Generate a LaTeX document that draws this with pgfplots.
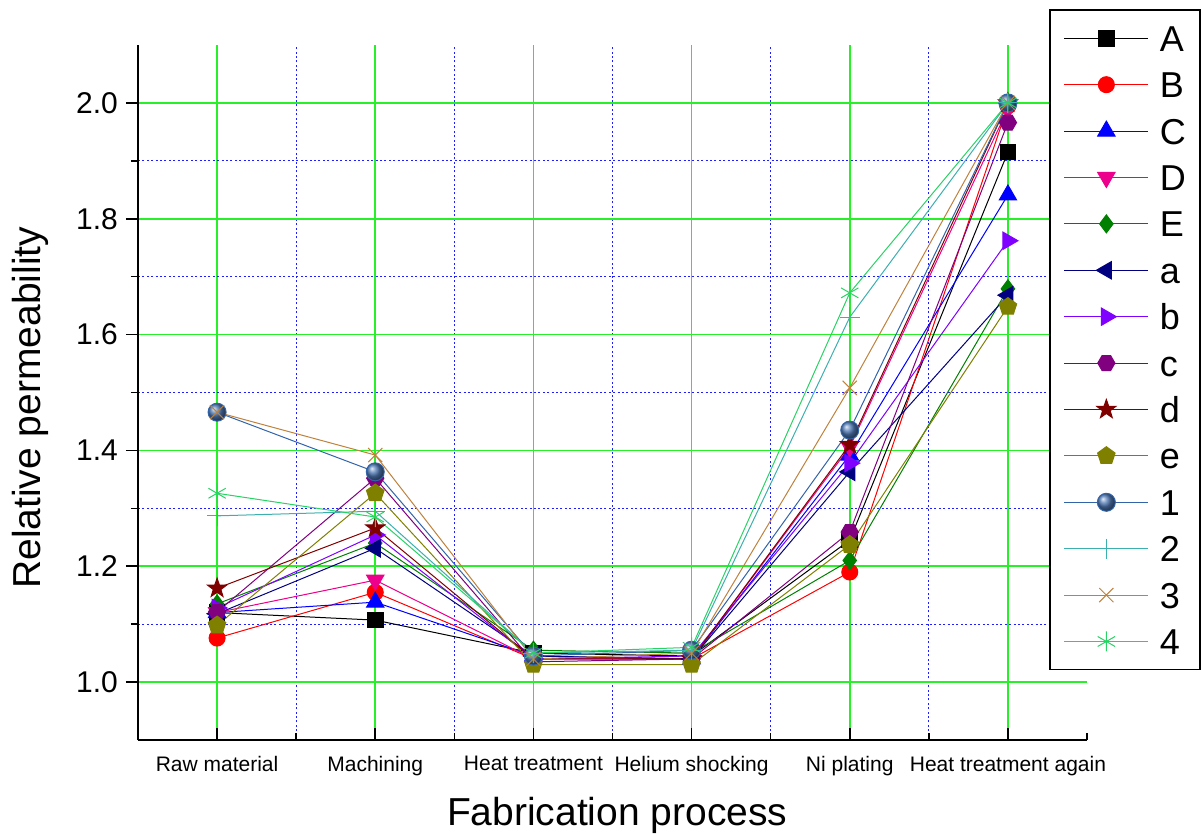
\documentclass[border=0pt]{standalone}
\usepackage{fontspec}
\setmainfont{Liberation Sans}
\usepackage{pgfplots}
\usepackage{pgfplotstable}
\pgfplotsset{compat=1.18}
\usetikzlibrary{plotmarks}

\definecolor{cE}{RGB}{0,128,0}
\definecolor{ca}{RGB}{0,0,128}
\definecolor{cb}{RGB}{128,0,255}
\definecolor{cc}{RGB}{128,0,128}
\definecolor{cd}{RGB}{128,0,0}
\definecolor{ce}{RGB}{128,128,0}
\definecolor{c1}{RGB}{50,100,170}
\definecolor{c2}{RGB}{60,175,175}
\definecolor{c3}{RGB}{190,130,60}
\definecolor{c4}{RGB}{40,210,100}
\definecolor{gmaj}{RGB}{40,240,40}
\definecolor{gmin}{RGB}{30,30,255}

\pgfdeclareplotmark{hexf}{%
  \pgfpathmoveto{\pgfqpoint{\pgfplotmarksize}{0pt}}%
  \pgfpathlineto{\pgfqpoint{0.5\pgfplotmarksize}{0.866\pgfplotmarksize}}%
  \pgfpathlineto{\pgfqpoint{-0.5\pgfplotmarksize}{0.866\pgfplotmarksize}}%
  \pgfpathlineto{\pgfqpoint{-\pgfplotmarksize}{0pt}}%
  \pgfpathlineto{\pgfqpoint{-0.5\pgfplotmarksize}{-0.866\pgfplotmarksize}}%
  \pgfpathlineto{\pgfqpoint{0.5\pgfplotmarksize}{-0.866\pgfplotmarksize}}%
  \pgfpathclose\pgfusepathqfillstroke}
\pgfdeclareplotmark{starf}{%
  \pgfpathmoveto{\pgfqpoint{0pt}{\pgfplotmarksize}}%
  \pgfpathlineto{\pgfqpoint{0.235\pgfplotmarksize}{0.324\pgfplotmarksize}}%
  \pgfpathlineto{\pgfqpoint{0.951\pgfplotmarksize}{0.309\pgfplotmarksize}}%
  \pgfpathlineto{\pgfqpoint{0.380\pgfplotmarksize}{-0.124\pgfplotmarksize}}%
  \pgfpathlineto{\pgfqpoint{0.588\pgfplotmarksize}{-0.809\pgfplotmarksize}}%
  \pgfpathlineto{\pgfqpoint{0pt}{-0.4\pgfplotmarksize}}%
  \pgfpathlineto{\pgfqpoint{-0.588\pgfplotmarksize}{-0.809\pgfplotmarksize}}%
  \pgfpathlineto{\pgfqpoint{-0.380\pgfplotmarksize}{-0.124\pgfplotmarksize}}%
  \pgfpathlineto{\pgfqpoint{-0.951\pgfplotmarksize}{0.309\pgfplotmarksize}}%
  \pgfpathlineto{\pgfqpoint{-0.235\pgfplotmarksize}{0.324\pgfplotmarksize}}%
  \pgfpathclose\pgfusepathqfillstroke}

\pgfplotstableread{
x  A     B     C     D     E     a     b     c     d     e     s1    s2    s3    s4
0  1.120 1.076 1.120 1.120 1.135 1.118 1.128 1.121 1.162 1.098 1.466 1.287 1.466 1.326
1  1.107 1.155 1.138 1.176 1.240 1.231 1.254 1.352 1.266 1.326 1.363 1.295 1.392 1.285
2  1.050 1.040 1.045 1.040 1.055 1.045 1.040 1.035 1.040 1.030 1.045 1.050 1.040 1.050
3  1.045 1.040 1.040 1.040 1.050 1.040 1.045 1.040 1.040 1.030 1.055 1.055 1.050 1.060
4  1.245 1.190 1.392 1.406 1.210 1.363 1.378 1.259 1.410 1.237 1.435 1.630 1.508 1.672
5  1.915 1.995 1.841 1.990 1.679 1.668 1.762 1.966 2.000 1.648 2.000 2.000 2.000 2.000
}\data

\begin{document}
\begin{tikzpicture}
\begin{axis}[
  at={(0pt,0pt)}, anchor=south west,
  scale only axis, width=474.5pt, height=347.5pt,
  xmin=-0.5, xmax=5.5, ymin=0.9, ymax=2.1,
  axis lines=left, axis line style={-, line width=1pt, black},
  xtick={0,1,2,3,4,5},
  xticklabels={Raw material, Machining, Heat treatment, Helium shocking, Ni plating, Heat treatment again},
  minor xtick={0.5,1.5,2.5,3.5,4.5},
  extra x ticks={5.5}, extra x tick labels={},
  extra x tick style={grid=none, major tick length=3.5pt},
  ytick={1.0,1.2,1.4,1.6,1.8,2.0},
  minor ytick={1.1,1.3,1.5,1.7,1.9},
  tick align=inside,
  major tick length=6pt, minor tick length=3.5pt,
  tick style={black, line width=0.8pt},
  every major y tick/.append style={xshift=-6pt},
  every minor y tick/.append style={xshift=-3.5pt},
  grid=both,
  major grid style={gmaj, line width=0.85pt, solid},
  minor grid style={gmin, line width=0.65pt, dash pattern=on 1pt off 1.2pt},
  /pgf/number format/assume math mode=true,
  /pgf/number format/fixed,
  /pgf/number format/fixed zerofill,
  /pgf/number format/precision=1,
  y tick label style={font=\fontsize{15}{15}\selectfont, xshift=-6.5pt},
  x tick label style={font=\fontsize{10.5}{12}\selectfont, yshift=-4.5pt},
  xlabel={Fabrication process},
  ylabel={Relative permeability},
  every axis x label/.style={at={(axis description cs:0.505,0)}, anchor=base, yshift=-42.5pt, font=\fontsize{19.5}{20}\selectfont},
  every axis y label/.style={at={(axis description cs:-0.103,0.478)}, anchor=base, rotate=90, font=\fontsize{19.5}{20}\selectfont},
  legend style={at={(axis description cs:0.96,1.0511)}, anchor=north west,
    draw=black, line width=0.8pt, fill=white,
    inner xsep=7pt, inner ysep=7.5pt, row sep=10.2pt, column sep=5.5pt,
    font=\fontsize{18}{18}\selectfont,
    nodes={inner sep=0pt, text height=13pt, text depth=0pt}},
  legend cell align=left,
  legend image code/.code={\draw[mark repeat=2,mark phase=2] plot coordinates {(0pt,0pt)(21pt,0pt)(42pt,0pt)};},
  every axis plot/.append style={line width=0.5pt},
]
\addplot[black, mark=square*, mark size=3.9pt] table[x=x,y=A]{\data};
\addplot[red, mark=*, mark size=4pt] table[x=x,y=B]{\data};
\addplot[blue, mark=triangle*, mark size=5pt] table[x=x,y=C]{\data};
\addplot[magenta, mark=triangle*, mark size=5pt, mark options={rotate=180}] table[x=x,y=D]{\data};
\addplot[cE, mark=diamond*, mark size=4.5pt] table[x=x,y=E]{\data};
\addplot[ca, mark=triangle*, mark size=5pt, mark options={rotate=90}] table[x=x,y=a]{\data};
\addplot[cb, mark=triangle*, mark size=5pt, mark options={rotate=-90}] table[x=x,y=b]{\data};
\addplot[cc, mark=hexf, mark size=4.3pt] table[x=x,y=c]{\data};
\addplot[cd, mark=starf, mark size=5pt] table[x=x,y=d]{\data};
\addplot[ce, mark=pentagon*, mark size=4.6pt] table[x=x,y=e]{\data};
\addplot[c1, mark=ball, mark options={ball color=c1!85!white}, mark size=4.5pt] table[x=x,y=s1]{\data};
\addplot[c2, mark=+, mark size=5pt] table[x=x,y=s2]{\data};
\addplot[c3, mark=x, mark size=5pt] table[x=x,y=s3]{\data};
\addplot[c4, mark=asterisk, mark size=5pt] table[x=x,y=s4]{\data};
\legend{A,B,C,D,E,a,b,c,d,e,1,2,3,4}
\end{axis}
\pgfresetboundingbox
\path[use as bounding box] (-69pt,-47pt) rectangle (532.5pt,370pt);
\end{tikzpicture}
\end{document}
